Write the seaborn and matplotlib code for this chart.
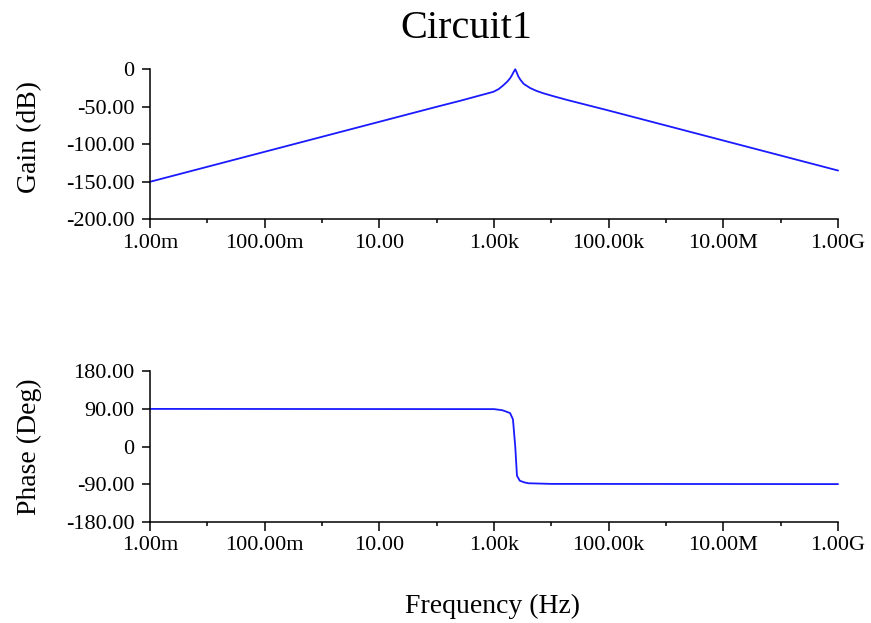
import matplotlib
matplotlib.use('Agg')
import matplotlib.pyplot as plt
import seaborn as sns
from matplotlib.ticker import FixedLocator, NullFormatter

# gain curve (Hz, dB)
gain_freq = [1e-3, 1e-2, 1e-1, 1e0, 1e1, 1e2, 257, 977, 1200, 1445, 1700, 1905,
             2050, 2200, 2344, 2480, 2650, 2884, 3300, 4266, 5500, 7244, 11000,
             19055, 1e5, 1e6, 1e7, 1e8, 1e9]
gain_db = [-150, -130, -110, -90, -70, -50, -42, -30, -26.5, -21.5, -16.5, -12,
           -8, -3.5, 0, -4, -9.5, -14, -19.5, -25, -28.8, -32, -36,
           -41, -55, -75, -95, -115, -135]

# phase curve (Hz, deg)
phase_freq = [1e-3, 1e3, 1380, 1600, 1905, 2138, 2344, 2512, 2818, 3400,
              4000, 1e4, 1e9]
phase_deg = [90, 89.5, 87, 84, 80, 65, 0, -70, -82, -86, -88, -89.5, -90]

major_freqs = [1e-3, 1e-1, 1e1, 1e3, 1e5, 1e7, 1e9]
major_labels = ['1.00m', '100.00m', '10.00', '1.00k', '100.00k', '10.00M', '1.00G']
minor_freqs = [1e-2, 1e0, 1e2, 1e4, 1e6, 1e8]

gain_ticks = [0, -50, -100, -150, -200]
gain_labels = ['0', '-50.00', '-100.00', '-150.00', '-200.00']
phase_ticks = [180, 90, 0, -90, -180]
phase_labels = ['180.00', '90.00', '0', '-90.00', '-180.00']

sns.set_style('ticks')
plt.rcParams['font.family'] = ['Liberation Serif', 'DejaVu Serif']
plt.rcParams['text.color'] = 'black'
plt.rcParams['axes.labelcolor'] = 'black'

fig = plt.figure(figsize=(8.71, 6.23), dpi=100)
ax1 = fig.add_axes([0.1722, 0.648, 0.790, 0.2408])
ax2 = fig.add_axes([0.1722, 0.1626, 0.790, 0.2414])

sns.lineplot(x=gain_freq, y=gain_db, ax=ax1, color='#1a1aff', linewidth=1.3,
             estimator=None, sort=False, clip_on=False)
sns.lineplot(x=phase_freq, y=phase_deg, ax=ax2, color='#1a1aff', linewidth=1.3,
             estimator=None, sort=False, clip_on=False)

for ax, yt, yl, lim in [(ax1, gain_ticks, gain_labels, (-200, 0)),
                        (ax2, phase_ticks, phase_labels, (-180, 180))]:
    ax.set_xscale('log')
    ax.set_xlim(1e-3, 1e9)
    ax.set_ylim(*lim)
    ax.xaxis.set_major_locator(FixedLocator(major_freqs))
    ax.set_xticklabels(major_labels)
    ax.xaxis.set_minor_locator(FixedLocator(minor_freqs))
    ax.xaxis.set_minor_formatter(NullFormatter())
    ax.set_yticks(yt)
    ax.set_yticklabels(yl)
    ax.tick_params(axis='x', which='major', length=6.5, width=1.1, labelsize=16, pad=4, colors='black')
    ax.tick_params(axis='x', which='minor', length=3, width=1.1, colors='black')
    ax.tick_params(axis='y', which='major', length=6, width=1.1, labelsize=16, pad=5, colors='black')
    for s in ['left', 'bottom']:
        ax.spines[s].set_linewidth(1.1)
        ax.spines[s].set_color('black')
    ax.grid(False)

sns.despine(fig=fig)

ax1.set_ylabel('Gain (dB)', fontsize=20)
ax1.yaxis.set_label_coords(-0.157, 0.55)
ax2.set_ylabel('Phase (Deg)', fontsize=20)
ax2.yaxis.set_label_coords(-0.157, 0.5)

fig.text(466 / 871, 1 - 28 / 623, 'Circuit1', fontsize=29, ha='center', va='center')
fig.text(492 / 871, 1 - 606 / 623, 'Frequency (Hz)', fontsize=20, ha='center', va='center')

fig.savefig('out.png', dpi=100)
